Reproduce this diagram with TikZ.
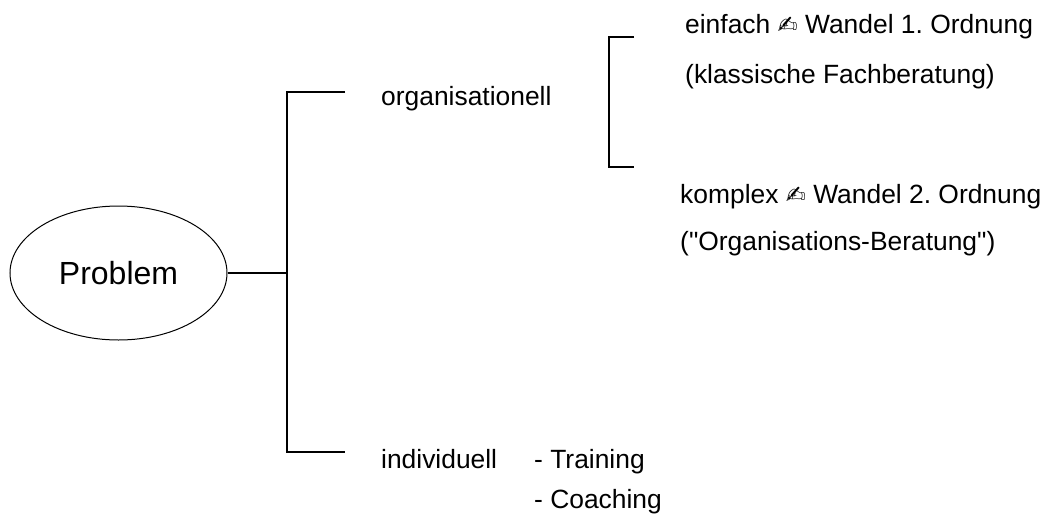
\documentclass[tikz,border=0pt]{standalone}
\usepackage{fontspec}
\usetikzlibrary{shapes.geometric}
\setmainfont{Liberation Sans}[Ligatures=TeXOff]
\newfontfamily\dingfont{DejaVu Sans}
\newcommand{\writehand}{{\dingfont\fontsize{24}{24}\selectfont ✍}}
\frenchspacing
\begin{document}
\begin{tikzpicture}[x=1pt,y=-1pt,
  lbl/.style={anchor=base west,inner sep=0pt,font=\fontsize{26.4}{26}\selectfont},
  branch/.style={line width=1.4pt},
  oval/.style={draw,ellipse,line width=1pt,minimum width=217pt,minimum height=134pt,inner sep=0pt,font=\fontsize{32}{32}\selectfont}]
\useasboundingbox (0,0) rectangle (1060,517);

% root
\node[oval] (prob) at (118.5,273) {Problem};

% first split
\coordinate (joint) at (287,273);
\coordinate (jtop) at (287,92);
\coordinate (jbot) at (287,452);
\coordinate (etop) at (345,92);
\coordinate (ebot) at (345,452);
\draw[branch] (prob.east) -- (joint);
\draw[branch] (etop) -- (jtop) -- (jbot) -- (ebot);

\node[lbl] (org) at (381,105) {organisationell};
\node[lbl] (ind) at (381,468) {individuell};
\node[lbl] (tr) at (534,468) {- Training};
\node[lbl] (co) at (534,508) {- Coaching};

% second split
\coordinate (ktop) at (609,37);
\coordinate (kbot) at (609,167);
\coordinate (ktopE) at (634,37);
\coordinate (kbotE) at (634,167);
\draw[branch] (ktopE) -- (ktop) -- (kbot) -- (kbotE);

\node[lbl] (einf) at (685,33) {einfach \writehand{} Wandel 1. Ordnung};
\node[lbl] (klass) at (685,83) {(klassische Fachberatung)};
\node[lbl] (kompl) at (680,203) {komplex \writehand{} Wandel 2. Ordnung};
\node[lbl] (orgb) at (680,250) {("Organisations-Beratung")};
\end{tikzpicture}
\end{document}
